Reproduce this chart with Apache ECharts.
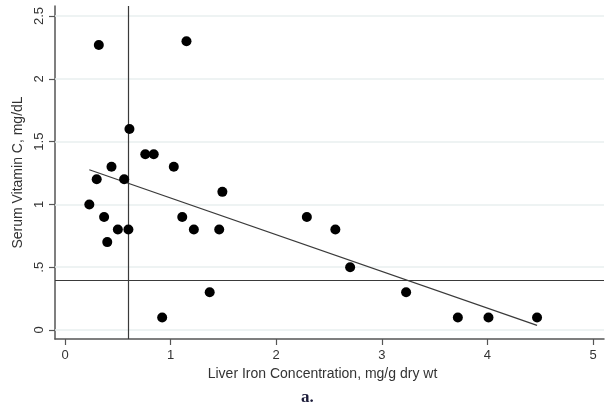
<!DOCTYPE html>
<html>
<head>
<meta charset="utf-8">
<script src="https://cdn.jsdelivr.net/npm/echarts@6/dist/echarts.min.js"></script>
<style>
  html, body { margin: 0; padding: 0; background: #fff; }
  #chart { width: 609px; height: 410px; }
</style>
</head>
<body>
<div id="chart"></div>
<script>
// Liver iron concentration (mg/g dry wt) vs serum vitamin C (mg/dL)
const liverIron = [0.32, 1.15, 0.61, 0.76, 0.84, 0.44, 1.03, 0.30, 0.56, 0.23,
                   0.37, 1.11, 0.50, 0.60, 1.22, 0.40, 1.49, 1.46, 1.37, 0.92,
                   2.29, 2.56, 2.70, 3.23, 3.72, 4.01, 4.47];
const vitaminC  = [2.27, 2.30, 1.60, 1.40, 1.40, 1.30, 1.30, 1.20, 1.20, 1.00,
                   0.90, 0.90, 0.80, 0.80, 0.80, 0.70, 1.10, 0.80, 0.30, 0.10,
                   0.90, 0.80, 0.50, 0.30, 0.10, 0.10, 0.10];

// Axis ticks and their printed labels
const xTickValues = [0, 1, 2, 3, 4, 5];
const xTickLabels = ['0', '1', '2', '3', '4', '5'];
const yTickValues = [0, 0.5, 1, 1.5, 2, 2.5];
const yTickLabels = ['0', '.5', '1', '1.5', '2', '2.5'];

// Cut-off reference lines
const ironCutoff = 0.6;
const vitaminCCutoff = 0.4;

// Least-squares fit over the observed range
function linearFit(xs, ys) {
  const n = xs.length;
  const mx = xs.reduce((a, b) => a + b, 0) / n;
  const my = ys.reduce((a, b) => a + b, 0) / n;
  let sxy = 0, sxx = 0;
  for (let i = 0; i < n; i++) {
    sxy += (xs[i] - mx) * (ys[i] - my);
    sxx += (xs[i] - mx) * (xs[i] - mx);
  }
  const slope = sxy / sxx;
  return { slope, intercept: my - slope * mx };
}
const fit = linearFit(liverIron, vitaminC);
const xLo = Math.min(...liverIron), xHi = Math.max(...liverIron);
const fitLine = [[xLo, fit.intercept + fit.slope * xLo], [xHi, fit.intercept + fit.slope * xHi]];

const points = liverIron.map((x, i) => [x, vitaminC[i]]);

const FONT = '"Liberation Sans", Arial, sans-serif';
const chart = echarts.init(document.getElementById('chart'), null, { renderer: 'canvas' });

chart.setOption({
  animation: false,
  backgroundColor: '#ffffff',
  grid: { left: 55, right: 5, top: 6, bottom: 71, containLabel: false },
  xAxis: {
    type: 'value',
    min: -0.095,
    max: 5.104,
    name: 'Liver Iron Concentration, mg/g dry wt',
    nameLocation: 'middle',
    nameGap: 25,
    nameTextStyle: { fontFamily: FONT, fontSize: 14, color: '#333', padding: [0, 14, 0, 0] },
    axisLine: { show: true, onZero: false, lineStyle: { color: '#555', width: 1.5 } },
    axisTick: { show: true, length: 6, customValues: xTickValues, lineStyle: { color: '#555', width: 1.2 } },
    axisLabel: {
      customValues: xTickValues,
      margin: 10,
      fontFamily: FONT, fontSize: 13, color: '#333',
      formatter: v => xTickLabels[xTickValues.indexOf(v)] ?? ''
    },
    splitLine: { show: false }
  },
  yAxis: {
    type: 'value',
    min: -0.0717,
    max: 2.58,
    name: 'Serum Vitamin C, mg/dL',
    nameLocation: 'middle',
    nameGap: 29,
    nameTextStyle: { fontFamily: FONT, fontSize: 14, color: '#333' },
    axisLine: { show: true, onZero: false, lineStyle: { color: '#555', width: 1.5 } },
    axisTick: { show: true, length: 6, customValues: yTickValues, lineStyle: { color: '#555', width: 1.2 } },
    axisLabel: {
      customValues: yTickValues,
      rotate: 90,
      margin: 9,
      fontFamily: FONT, fontSize: 13, color: '#333',
      formatter: v => yTickLabels[yTickValues.indexOf(v)] ?? ''
    },
    splitLine: { show: false }
  },
  series: [
    {
      // light horizontal guides at each y tick
      type: 'line',
      data: [],
      z: 1,
      silent: true,
      markLine: {
        z: 1,
        silent: true,
        symbol: 'none',
        label: { show: false },
        lineStyle: { color: '#e9efef', width: 1.5, type: 'solid' },
        data: yTickValues.map(v => ({ yAxis: v }))
      }
    },
    {
      // cut-off lines
      type: 'line',
      data: [],
      z: 2,
      silent: true,
      markLine: {
        z: 2,
        silent: true,
        symbol: 'none',
        label: { show: false },
        lineStyle: { color: '#3a3a3a', width: 1.2, type: 'solid' },
        data: [{ xAxis: ironCutoff }, { yAxis: vitaminCCutoff }]
      }
    },
    {
      type: 'line',
      data: fitLine,
      z: 3,
      symbol: 'none',
      lineStyle: { color: '#3a3a3a', width: 1.2 }
    },
    {
      type: 'scatter',
      data: points,
      z: 6,
      symbol: 'circle',
      symbolSize: 10,
      itemStyle: { color: '#000', opacity: 1 }
    }
  ],
  graphic: [
    {
      type: 'text',
      left: 301,
      top: 389,
      style: {
        text: 'a.',
        fontFamily: '"Liberation Serif", "Times New Roman", serif',
        fontWeight: 'bold',
        fontSize: 17,
        fill: '#1c1c3a'
      }
    }
  ]
});
</script>
</body>
</html>
